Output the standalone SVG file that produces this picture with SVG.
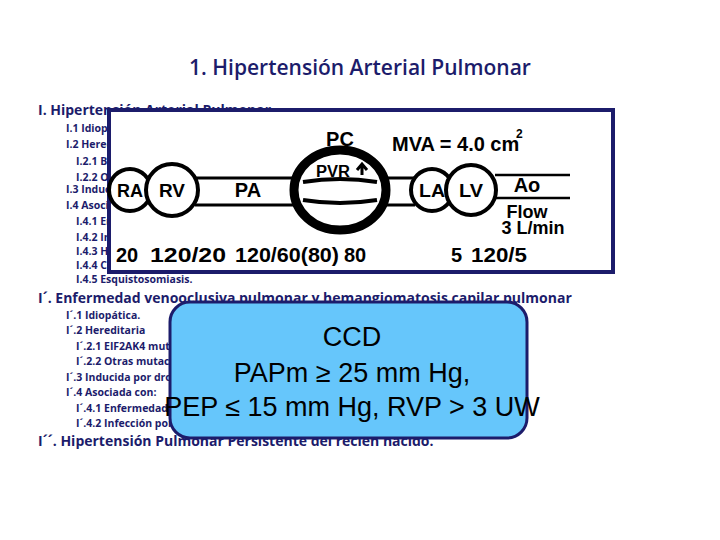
<svg xmlns="http://www.w3.org/2000/svg" width="720" height="540" viewBox="0 0 720 540">
<style>
.t{font-family:"Open Sans","Noto Sans",sans-serif;fill:#1c1c6b;font-weight:bold}
.h{font-size:14px}
.s{font-size:10.5px}
.d{font-family:"Liberation Sans",Arial,sans-serif;font-weight:bold;fill:#000}
.c{fill:#fff;stroke:#000;stroke-width:4}
.b{font-family:"Liberation Sans",Arial,sans-serif;font-size:27px;fill:#000}
</style>
<rect width="720" height="540" fill="#fff"/>
<text x="360" y="75" text-anchor="middle" style="font-family:'Open Sans','Noto Sans',sans-serif;font-size:21px;font-weight:600;fill:#1c1c6b">1. Hipertensión Arterial Pulmonar</text>
<g id="list">
<text x="38" y="115" class="t h">I. Hipertensión Arterial Pulmonar</text>
<text x="66" y="132" class="t s">I.1   Idiopática</text>
<text x="66" y="148" class="t s">I.2   Hereditaria</text>
<text x="76" y="165" class="t s">I.2.1 BMPR2</text>
<text x="76" y="181" class="t s">I.2.2 Otras mutaciones</text>
<text x="66" y="193" class="t s">I.3   Inducida por drogas y toxinas</text>
<text x="66" y="209" class="t s">I.4   Asociada con:</text>
<text x="76" y="225" class="t s">I.4.1 Enfermedad del tejido conectivo</text>
<text x="76" y="241" class="t s">I.4.2 Infección por VIH</text>
<text x="76" y="255" class="t s">I.4.3 Hipertensión portal</text>
<text x="76" y="269" class="t s">I.4.4 Cardiopatías congénitas</text>
<text x="76" y="283" class="t s">I.4.5 Esquistosomiasis.</text>
<text x="38" y="303" class="t h">I´. Enfermedad venooclusiva pulmonar y hemangiomatosis capilar pulmonar</text>
<text x="66" y="319" class="t s">I´.1   Idiopática.</text>
<text x="66" y="334" class="t s">I´.2   Hereditaria</text>
<text x="76" y="350" class="t s">I´.2.1 EIF2AK4 mutación</text>
<text x="76" y="365" class="t s">I´.2.2 Otras mutaciones</text>
<text x="66" y="381" class="t s">I´.3   Inducida por drogas</text>
<text x="66" y="396" class="t s">I´.4   Asociada con:</text>
<text x="76" y="412" class="t s">I´.4.1 Enfermedad del tejido conectivo</text>
<text x="76" y="427" class="t s">I´.4.2 Infección por VIH</text>
<text x="38" y="446" class="t h">I´´. Hipertensión Pulmonar Persistente del recién nacido.</text>
</g>
<g id="hemo">
<rect x="109" y="110" width="504" height="162" fill="#fff" stroke="#1c1c6b" stroke-width="4"/>
<path d="M195 178 H300 M195 205 H300 M380 178 H415 M380 205 H415" stroke="#000" stroke-width="3"/>
<path d="M495 175 H570 M495 198 H570" stroke="#000" stroke-width="2.5"/>
<ellipse cx="340" cy="190" rx="46" ry="40" fill="#fff" stroke="#000" stroke-width="9"/>
<rect x="302" y="182" width="76" height="18" fill="#fff"/>
<path d="M303 182 Q340 176 377 182 M303 200 Q340 206 377 200" stroke="#000" stroke-width="4" fill="none"/>
<circle cx="130" cy="190" r="21" class="c"/>
<circle cx="172" cy="190" r="26" class="c"/>
<circle cx="432" cy="190" r="21" class="c"/>
<circle cx="471" cy="190" r="25" class="c"/>
<text x="130" y="197" text-anchor="middle" class="d" font-size="18" textLength="26" lengthAdjust="spacingAndGlyphs">RA</text>
<text x="172" y="197" text-anchor="middle" class="d" font-size="18" textLength="26" lengthAdjust="spacingAndGlyphs">RV</text>
<text x="248" y="197" text-anchor="middle" class="d" font-size="20">PA</text>
<text x="340" y="146" text-anchor="middle" class="d" font-size="20">PC</text>
<text x="333" y="177" text-anchor="middle" class="d" font-size="16" textLength="34" lengthAdjust="spacingAndGlyphs">PVR</text>
<path d="M362 175 V165 M357 170 L362 164 L367 170" stroke="#000" stroke-width="3" fill="none"/>
<text x="432" y="197" text-anchor="middle" class="d" font-size="18" textLength="26" lengthAdjust="spacingAndGlyphs">LA</text>
<text x="471" y="197" text-anchor="middle" class="d" font-size="18" textLength="24" lengthAdjust="spacingAndGlyphs">LV</text>
<text x="527" y="192" text-anchor="middle" class="d" font-size="20">Ao</text>
<text x="527" y="218" text-anchor="middle" class="d" font-size="18">Flow</text>
<text x="533" y="234" text-anchor="middle" class="d" font-size="18">3 L/min</text>
<text x="392" y="151" class="d" font-size="20">MVA = 4.0 cm</text>
<text x="516" y="138" class="d" font-size="12">2</text>
<text x="116" y="262" class="d" font-size="20">20</text>
<text x="150" y="262" class="d" font-size="20" textLength="76" lengthAdjust="spacingAndGlyphs">120/20</text>
<text x="235" y="262" class="d" font-size="20" textLength="104" lengthAdjust="spacingAndGlyphs">120/60(80)</text>
<text x="344" y="262" class="d" font-size="20">80</text>
<text x="451" y="262" class="d" font-size="20">5</text>
<text x="471" y="262" class="d" font-size="20" textLength="56" lengthAdjust="spacingAndGlyphs">120/5</text>
</g>
<g id="ccd">
<rect x="170" y="302" width="357" height="136" rx="20" fill="#66c6fb" stroke="#1c1c6b" stroke-width="3"/>
<text x="352" y="346" text-anchor="middle" class="b">CCD</text>
<text x="352" y="382" text-anchor="middle" class="b">PAPm ≥ 25 mm Hg,</text>
<text x="352" y="416" text-anchor="middle" class="b">PEP ≤ 15 mm Hg, RVP &gt; 3 UW</text>
</g>
</svg>
